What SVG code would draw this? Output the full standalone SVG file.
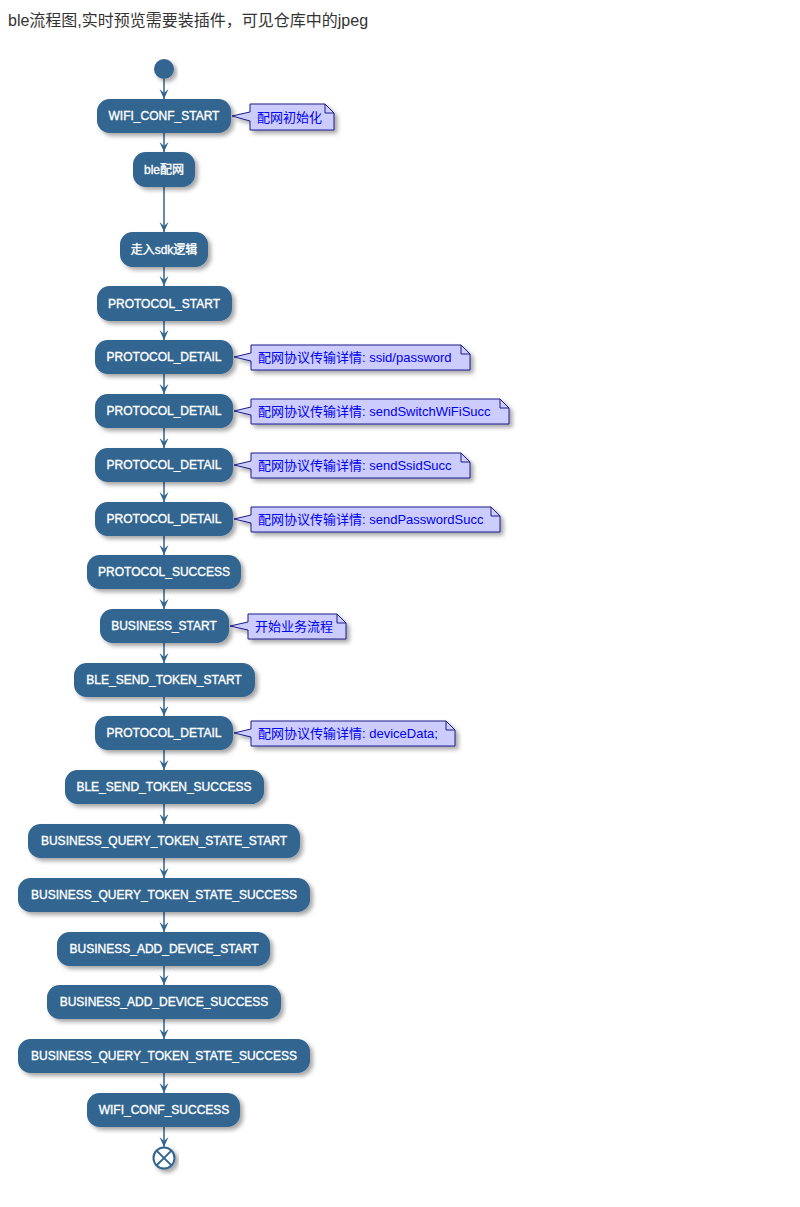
<svg xmlns="http://www.w3.org/2000/svg" width="800" height="1207" viewBox="0 0 800 1207">
<style>
.n{fill:#32658f;filter:url(#sh)}
.nt{fill:#ffffff;stroke:#ffffff;stroke-width:0.35;font-family:"Liberation Sans",Arial,"Noto Sans CJK SC",sans-serif;font-size:12px;text-anchor:middle}
.no{fill:#ccccff;stroke:#1c1c88;stroke-width:1;filter:url(#sh)}
.nf{fill:none;stroke:#1c1c88;stroke-width:1}
.ntt{fill:#0000ee;font-family:"Liberation Sans",Arial,"Noto Sans CJK SC",sans-serif;font-size:13px}
.c line{stroke:#32658f;stroke-width:1.5;marker-end:url(#ar)}
.title{fill:#333333;font-family:"Liberation Sans",Arial,"Noto Sans CJK SC",sans-serif;font-size:16px}
</style>
<defs>
<filter id="sh" x="-20%" y="-30%" width="140%" height="170%">
<feDropShadow dx="3" dy="3" stdDeviation="2" flood-color="#000" flood-opacity="0.35"/>
</filter>
<marker id="ar" markerUnits="userSpaceOnUse" viewBox="-11 -6 12 12" refX="0" refY="0" markerWidth="12" markerHeight="12" orient="auto">
<path d="M0,0 L-10,-4.5 L-6,0 L-10,4.5 Z" fill="#32658f"/>
</marker>
</defs>
<rect width="800" height="1207" fill="#ffffff"/>
<text class="title" x="8" y="26">ble流程图,实时预览需要装插件，可见仓库中的jpeg</text>

<g class="c" id="connectors">
<line x1="164" y1="79" x2="164" y2="99"/>
<line x1="164" y1="133" x2="164" y2="152"/>
<line x1="164" y1="187" x2="164" y2="232"/>
<line x1="164" y1="267" x2="164" y2="286"/>
<line x1="164" y1="321" x2="164" y2="340"/>
<line x1="164" y1="374" x2="164" y2="394"/>
<line x1="164" y1="428" x2="164" y2="448"/>
<line x1="164" y1="482" x2="164" y2="502"/>
<line x1="164" y1="536" x2="164" y2="555"/>
<line x1="164" y1="589" x2="164" y2="609"/>
<line x1="164" y1="643" x2="164" y2="663"/>
<line x1="164" y1="697" x2="164" y2="716"/>
<line x1="164" y1="750" x2="164" y2="770"/>
<line x1="164" y1="804" x2="164" y2="824"/>
<line x1="164" y1="858" x2="164" y2="878"/>
<line x1="164" y1="912" x2="164" y2="932"/>
<line x1="164" y1="966" x2="164" y2="985"/>
<line x1="164" y1="1019" x2="164" y2="1039"/>
<line x1="164" y1="1073" x2="164" y2="1093"/>
<line x1="164" y1="1127" x2="164" y2="1147"/>
</g>

<g id="start"><circle cx="164" cy="69" r="10" class="n"/></g>

<g id="n1"><rect class="n" x="97" y="99" width="134" height="34" rx="12.5"/><text class="nt" x="164" y="120">WIFI_CONF_START</text></g>
<g id="note1"><path class="no" d="M250,104 L325,104 L334,113 L334,130 L250,130 L250,121 L232,116 L250,112 Z"/><path class="nf" d="M325,104 L325,113 L334,113"/><text class="ntt" x="257" y="121.5">配网初始化</text></g>

<g id="n2"><rect class="n" x="133" y="152" width="62" height="35" rx="12.5"/><text class="nt" x="164" y="174">ble配网</text></g>
<g id="n3"><rect class="n" x="120" y="232" width="88" height="35" rx="12.5"/><text class="nt" x="164" y="254">走入sdk逻辑</text></g>
<g id="n4"><rect class="n" x="97" y="286" width="135" height="35" rx="12.5"/><text class="nt" x="164" y="308">PROTOCOL_START</text></g>

<g id="n5"><rect class="n" x="95" y="340" width="138" height="34" rx="12.5"/><text class="nt" x="164" y="361">PROTOCOL_DETAIL</text></g>
<g id="note2"><path class="no" d="M251,345 L461,345 L470,354 L470,370 L251,370 L251,361 L234,357 L251,353 Z"/><path class="nf" d="M461,345 L461,354 L470,354"/><text class="ntt" x="258" y="362">配网协议传输详情: ssid/password</text></g>

<g id="n6"><rect class="n" x="95" y="394" width="138" height="34" rx="12.5"/><text class="nt" x="164" y="415">PROTOCOL_DETAIL</text></g>
<g id="note3"><path class="no" d="M251,399 L500,399 L509,408 L509,424 L251,424 L251,415 L234,411 L251,407 Z"/><path class="nf" d="M500,399 L500,408 L509,408"/><text class="ntt" x="258" y="416">配网协议传输详情: sendSwitchWiFiSucc</text></g>

<g id="n7"><rect class="n" x="95" y="448" width="138" height="34" rx="12.5"/><text class="nt" x="164" y="469">PROTOCOL_DETAIL</text></g>
<g id="note4"><path class="no" d="M251,453 L461,453 L470,462 L470,478 L251,478 L251,469 L234,465 L251,461 Z"/><path class="nf" d="M461,453 L461,462 L470,462"/><text class="ntt" x="258" y="470">配网协议传输详情: sendSsidSucc</text></g>

<g id="n8"><rect class="n" x="95" y="502" width="138" height="34" rx="12.5"/><text class="nt" x="164" y="523">PROTOCOL_DETAIL</text></g>
<g id="note5"><path class="no" d="M251,507 L491,507 L500,516 L500,532 L251,532 L251,523 L234,519 L251,515 Z"/><path class="nf" d="M491,507 L491,516 L500,516"/><text class="ntt" x="258" y="524">配网协议传输详情: sendPasswordSucc</text></g>

<g id="n9"><rect class="n" x="87" y="555" width="154" height="34" rx="12.5"/><text class="nt" x="164" y="576">PROTOCOL_SUCCESS</text></g>

<g id="n10"><rect class="n" x="100" y="609" width="129" height="34" rx="12.5"/><text class="nt" x="164" y="630">BUSINESS_START</text></g>
<g id="note6"><path class="no" d="M248,614 L337,614 L346,623 L346,639 L248,639 L248,630 L230,626 L248,622 Z"/><path class="nf" d="M337,614 L337,623 L346,623"/><text class="ntt" x="255" y="631">开始业务流程</text></g>

<g id="n11"><rect class="n" x="74" y="663" width="181" height="34" rx="12.5"/><text class="nt" x="164" y="684">BLE_SEND_TOKEN_START</text></g>

<g id="n12"><rect class="n" x="95" y="716" width="138" height="34" rx="12.5"/><text class="nt" x="164" y="737">PROTOCOL_DETAIL</text></g>
<g id="note7"><path class="no" d="M251,721 L446,721 L455,730 L455,746 L251,746 L251,737 L234,733 L251,729 Z"/><path class="nf" d="M446,721 L446,730 L455,730"/><text class="ntt" x="258" y="738">配网协议传输详情: deviceData;</text></g>

<g id="n13"><rect class="n" x="65" y="770" width="199" height="34" rx="12.5"/><text class="nt" x="164" y="791">BLE_SEND_TOKEN_SUCCESS</text></g>
<g id="n14"><rect class="n" x="28" y="824" width="272" height="34" rx="12.5"/><text class="nt" x="164" y="845">BUSINESS_QUERY_TOKEN_STATE_START</text></g>
<g id="n15"><rect class="n" x="18" y="878" width="292" height="34" rx="12.5"/><text class="nt" x="164" y="899">BUSINESS_QUERY_TOKEN_STATE_SUCCESS</text></g>
<g id="n16"><rect class="n" x="57" y="932" width="213" height="34" rx="12.5"/><text class="nt" x="164" y="953">BUSINESS_ADD_DEVICE_START</text></g>
<g id="n17"><rect class="n" x="47" y="985" width="234" height="34" rx="12.5"/><text class="nt" x="164" y="1006">BUSINESS_ADD_DEVICE_SUCCESS</text></g>
<g id="n18"><rect class="n" x="18" y="1039" width="292" height="34" rx="12.5"/><text class="nt" x="164" y="1060">BUSINESS_QUERY_TOKEN_STATE_SUCCESS</text></g>
<g id="n19"><rect class="n" x="87" y="1093" width="153" height="34" rx="12.5"/><text class="nt" x="164" y="1114">WIFI_CONF_SUCCESS</text></g>

<g id="end">
<circle cx="164" cy="1158" r="10.5" fill="#ffffff" stroke="#32658f" stroke-width="2" filter="url(#sh)"/>
<path d="M156.6,1150.6 L171.4,1165.4 M171.4,1150.6 L156.6,1165.4" stroke="#32658f" stroke-width="2"/>
</g>
</svg>
